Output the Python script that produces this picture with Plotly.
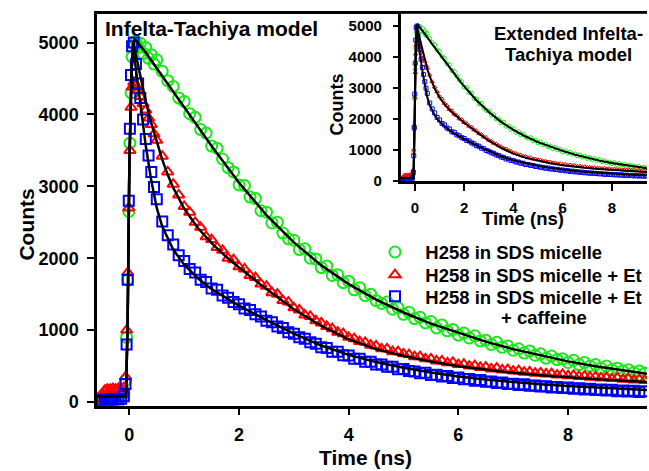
import plotly.graph_objects as go

# ---------------- data ----------------
t_ns = [-0.6, -0.55, -0.5, -0.45, -0.4, -0.35, -0.3, -0.25, -0.2, -0.15, -0.1,
        -0.07, -0.05, -0.03, -0.01, 0.01, 0.03, 0.05,
        0.08, 0.12, 0.16, 0.2, 0.25, 0.3, 0.35, 0.4, 0.45, 0.5,
        0.6, 0.7, 0.8, 0.9, 1.0, 1.1, 1.2, 1.3, 1.4, 1.5, 1.6, 1.7, 1.8, 1.9,
        2.0, 2.1, 2.2, 2.3, 2.4, 2.5, 2.6, 2.7, 2.8, 2.9,
        3.0, 3.1, 3.2, 3.3, 3.4, 3.5, 3.6, 3.7, 3.8, 3.9,
        4.0, 4.1, 4.2, 4.3, 4.4, 4.5, 4.6, 4.7, 4.8, 4.9,
        5.0, 5.1, 5.2, 5.3, 5.4, 5.5, 5.6, 5.7, 5.8, 5.9,
        6.0, 6.1, 6.2, 6.3, 6.4, 6.5, 6.6, 6.7, 6.8, 6.9,
        7.0, 7.1, 7.2, 7.3, 7.4, 7.5, 7.6, 7.7, 7.8, 7.9,
        8.0, 8.1, 8.2, 8.3, 8.4, 8.5, 8.6, 8.7, 8.8, 8.9,
        9.0, 9.1, 9.2, 9.3, 9.4]

green_counts = [30, 55, 20, 45, 35, 60, 25, 50, 40, 70, 110,
                300, 900, 1700, 2650, 3600, 4300, 4800,
                4980, 5020, 4930, 4990, 4850, 4930, 4780, 4830, 4700, 4760,
                4600, 4470, 4390, 4230, 4180, 4010, 3960, 3790, 3740, 3560, 3530, 3380, 3260, 3200,
                3020, 3010, 2850, 2830, 2660, 2640, 2490, 2500, 2350, 2270,
                2250, 2120, 2130, 2000, 1990, 1870, 1890, 1760, 1770, 1660,
                1680, 1560, 1590, 1480, 1500, 1410, 1370, 1390, 1290, 1310,
                1220, 1250, 1160, 1180, 1100, 1120, 1030, 1070, 990, 1010,
                930, 960, 890, 920, 850, 860, 800, 830, 760, 780,
                720, 740, 680, 710, 650, 670, 610, 640, 590, 600,
                550, 580, 520, 550, 500, 520, 470, 500, 450, 470,
                430, 450, 410, 430, 400]

red_counts = [40, 60, 110, 160, 180, 175, 185, 180, 190, 185, 200,
              350, 1000, 1800, 2700, 3500, 4100, 4380,
              4450, 4400, 4330, 4250, 4150, 4060, 3950, 3860, 3730, 3640,
              3420, 3200, 3030, 2880, 2720, 2640, 2500, 2430, 2300, 2260, 2150, 2110, 2000, 1980,
              1880, 1850, 1760, 1730, 1640, 1610, 1520, 1500, 1410, 1390,
              1310, 1280, 1210, 1190, 1130, 1100, 1050, 1020, 970, 950,
              900, 880, 840, 830, 790, 780, 740, 740, 700, 700,
              670, 660, 630, 630, 600, 600, 570, 570, 545, 550,
              520, 525, 500, 505, 480, 485, 460, 470, 445, 450,
              430, 435, 415, 420, 400, 405, 390, 395, 375, 385,
              365, 370, 355, 360, 345, 350, 335, 340, 325, 335,
              315, 325, 305, 315, 300]

blue_counts = [15, 25, 10, 30, 20, 35, 25, 40, 30, 45, 80,
               250, 800, 1700, 2800, 3800, 4550, 4950,
               5000, 4700, 4430, 4230, 3930, 3660, 3430, 3200, 2990, 2820,
               2510, 2320, 2190, 2040, 1960, 1850, 1800, 1700, 1670, 1580, 1560, 1480, 1450, 1390,
               1360, 1300, 1280, 1220, 1190, 1130, 1110, 1050, 1030, 970,
               950, 900, 880, 830, 810, 760, 750, 700, 700, 650,
               645, 600, 600, 560, 560, 520, 520, 490, 490, 455,
               460, 430, 425, 400, 405, 375, 380, 355, 360, 335,
               340, 315, 320, 295, 305, 280, 285, 265, 270, 250,
               255, 235, 245, 225, 230, 215, 220, 200, 210, 195,
               200, 185, 190, 175, 185, 165, 175, 160, 170, 150,
               160, 145, 155, 140, 150]

fit_t = [-0.6, -0.06, -0.03, 0.0, 0.04, 0.07, 0.1, 0.2, 0.3, 0.4, 0.5,
         0.6, 0.7, 0.8, 1.0, 1.25, 1.5, 1.75, 2.0, 2.5, 3.0, 3.5, 4.0, 4.5,
         5.0, 5.5, 6.0, 6.5, 7.0, 7.5, 8.0, 8.5, 9.0, 9.45]
green_fit = [80, 80, 1200, 3300, 4600, 4990, 5050, 4960, 4860, 4750, 4640,
             4530, 4420, 4310, 4100, 3830, 3560, 3300, 3050, 2600, 2220, 1900, 1640, 1425,
             1245, 1090, 960, 840, 735, 645, 565, 497, 438, 392]
red_fit = [80, 80, 1200, 3300, 4600, 5000, 4900, 4520, 4180, 3880, 3610,
           3370, 3160, 2980, 2690, 2420, 2210, 2030, 1870, 1570, 1290, 1060, 870, 735,
           640, 562, 498, 447, 406, 372, 343, 318, 296, 278]
blue_fit = [80, 80, 1200, 3300, 4600, 5000, 4750, 4120, 3560, 3080, 2700,
            2440, 2270, 2120, 1910, 1720, 1570, 1450, 1340, 1140, 950, 785, 655, 555,
            475, 410, 355, 312, 276, 247, 222, 201, 183, 168]

x_ticks = [0, 2, 4, 6, 8]
y_ticks = [0, 1000, 2000, 3000, 4000, 5000]

series_names = ["H258 in SDS micelle",
                "H258 in SDS micelle + Et",
                "H258 in SDS micelle + Et"]
series_name_extra = "+ caffeine"

# ---------------- styling ----------------
W, H = 649, 471
FONT = "Liberation Sans, Arial, sans-serif"
GREEN, RED, BLUE = "#18ea18", "#ff0000", "#0000ff"
PAD = "\u00a0\u00a0"

def fx(px):
    return px / W

def fy(py):
    return 1 - py / H

fig = go.Figure()

styles = [(green_counts, green_fit, GREEN, "circle-open", 11, "legend"),
          (red_counts, red_fit, RED, "triangle-up-open", 10, "legend2"),
          (blue_counts, blue_fit, BLUE, "square-open", 10, "legend3")]

# main panel data
for name, (yv, fv, col, sym, sz, leg) in zip(series_names, styles):
    fig.add_trace(go.Scatter(x=t_ns, y=yv, mode="markers", name=PAD + name,
                             legend=leg,
                             marker=dict(symbol=sym, size=sz, color=col,
                                         line=dict(color=col, width=2)),
                             xaxis="x", yaxis="y"))
for name, (yv, fv, col, sym, sz, leg) in zip(series_names, styles):
    fig.add_trace(go.Scatter(x=fit_t, y=fv, mode="lines", showlegend=False,
                             line=dict(color="black", width=2.5),
                             xaxis="x", yaxis="y"))
# inset data
for name, (yv, fv, col, sym, sz, leg) in zip(series_names, styles):
    fig.add_trace(go.Scatter(x=t_ns, y=yv, mode="markers", showlegend=False,
                             marker=dict(symbol=sym, size=4, color=col,
                                         line=dict(color=col, width=1)),
                             xaxis="x2", yaxis="y2"))
for name, (yv, fv, col, sym, sz, leg) in zip(series_names, styles):
    fig.add_trace(go.Scatter(x=fit_t, y=fv, mode="lines", showlegend=False,
                             line=dict(color="black", width=2),
                             xaxis="x2", yaxis="y2"))

common = dict(showline=True, linecolor="black", linewidth=2.5, ticks="outside",
              tickcolor="black", tickwidth=2, showgrid=False, zeroline=False)
big_tick = dict(family=FONT, size=18, color="black", weight="bold")
small_tick = dict(family=FONT, size=15, color="black", weight="bold")
leg_font = dict(family=FONT, size=18.5, color="black", weight="bold")

def leg(ytop):
    return dict(x=fx(375), y=fy(ytop), xanchor="left", yanchor="top",
                bgcolor="rgba(0,0,0,0)", font=leg_font)

fig.update_layout(
    width=W, height=H, autosize=False,
    margin=dict(l=0, r=0, t=0, b=0, pad=0),
    paper_bgcolor="white", plot_bgcolor="white",
    xaxis=dict(domain=[fx(97), fx(647)], range=[-0.59, 9.44], tickvals=x_ticks,
               ticklen=7, mirror=True, anchor="y", tickfont=big_tick,
               ticklabelstandoff=4, **common),
    yaxis=dict(domain=[fy(411.7), fy(14)], range=[-50, 5400], tickvals=y_ticks,
               ticklen=7, anchor="x", tickfont=big_tick, ticklabelstandoff=5,
               **common),
    xaxis2=dict(domain=[fx(400.7), fx(647)], range=[-0.58, 9.43], tickvals=x_ticks,
                ticklen=7, anchor="y2", tickfont=small_tick, ticklabelstandoff=4,
                **common),
    yaxis2=dict(domain=[fy(184.2), fy(14)], range=[-30, 5400], tickvals=y_ticks,
                ticklen=5, anchor="x2", tickfont=small_tick, ticklabelstandoff=8,
                **common),
    legend=leg(237),
    legend2=leg(260),
    legend3=leg(282),
    showlegend=True,
)

def ann(text, x, y, size, angle=0, xanchor="center"):
    fig.add_annotation(text=text, x=fx(x), y=fy(y), xref="paper", yref="paper",
                       showarrow=False, textangle=angle, xanchor=xanchor, yanchor="middle",
                       font=dict(family=FONT, size=size, color="black", weight="bold"))

ann("Infelta-Tachiya model", 103, 29, 21, xanchor="left")
ann("Counts", 27, 228, 21, angle=-90)
ann("Time (ns)", 366, 464, 21)
ann("Counts", 337, 106, 18, angle=-90)
ann("Time (ns)", 523, 222, 18.5)
ann("Extended Infelta-", 568, 34, 18.5)
ann("Tachiya model", 568, 55, 18.5)
ann(series_name_extra, 544, 322, 18.5)

fig.write_html("out.html",
               config=dict(displayModeBar=False),
               post_script="document.body.style.margin='0px';"
                           "document.body.style.overflow='hidden';")
